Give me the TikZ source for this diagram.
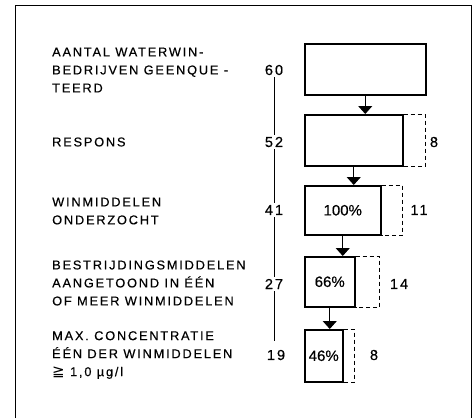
\documentclass[tikz,border=0pt]{standalone}
\usepackage{fontspec}
\setmainfont{Liberation Sans}[FakeBold=0.4]
\newfontfamily\lblfont{Liberation Sans}[LetterSpace=14,FakeBold=0.4]
\newfontfamily\symfont{DejaVu Sans}
\usetikzlibrary{arrows.meta}
\begin{document}
\begin{tikzpicture}[x=1pt,y=-1pt,
  lbl/.style={anchor=west, align=left, inner sep=0pt, font=\lblfont\fontsize{12.8}{18}\selectfont},
  num/.style={inner sep=0pt, minimum height=14pt, font=\lblfont\fontsize{14.5}{16}\selectfont},
  pct/.style={inner sep=0pt, font=\fontsize{15}{16}\selectfont},
  boxx/.style={draw, line width=1.5pt, anchor=north west, inner sep=0pt},
  dashx/.style={draw, line width=0.8pt, dash pattern=on 4pt off 3pt},
  arr/.style={line width=1.1pt, -{Triangle[width=14pt,length=8pt]}},
  vline/.style={line width=0.9pt},
  frame/.style={line width=1pt}]
\useasboundingbox (0,0) rectangle (476,418);
% frame
\coordinate (fbl) at (15,418);
\coordinate (ftl) at (15,5);
\coordinate (ftr) at (471,5);
\coordinate (fbr) at (471,418);
\draw[frame] (fbl) -- (ftl) -- (ftr) -- (fbr);
% labels
\node[lbl] (l1) at (52,70) {AANTAL WATERWIN-\\BEDRIJVEN GEENQUE -\\TEERD};
\node[lbl] (l2) at (52,142) {RESPONS};
\node[lbl] (l3) at (52,211) {WINMIDDELEN\\ONDERZOCHT};
\node[lbl] (l4) at (52,283) {BESTRIJDINGSMIDDELEN\\AANGETOOND IN ÉÉN\\OF MEER WINMIDDELEN};
\node[lbl] (l5) at (52,355) {MAX. CONCENTRATIE\\ÉÉN DER WINMIDDELEN\\{\symfont\fontsize{15}{18}\selectfont ≧} 1,0 µg/l};
% numbers column
\node[num] (n1) at (274,70) {60};
\node[num] (n2) at (274,142) {52};
\node[num] (n3) at (274,210) {41};
\node[num] (n4) at (274,284) {27};
\node[num] (n5) at (276,355) {19};
\draw[vline] (n1.south) -- (n1.south |- n2.north);
\draw[vline] (n2.south) -- (n2.south |- n3.north);
\draw[vline] (n3.south) -- (n3.south |- n4.north);
\draw[vline] (n4.south) -- (n4.south |- 0,341);
% boxes
\node[boxx, minimum width=121pt, minimum height=51pt] (b1) at (304,43) {};
\node[boxx, minimum width=98pt, minimum height=51pt] (b2) at (304,114) {};
\node[boxx, minimum width=76pt, minimum height=49pt] (b3) at (304,185) {};
\node[boxx, minimum width=50pt, minimum height=50pt] (b4) at (304,256) {};
\node[boxx, minimum width=38pt, minimum height=52pt] (b5) at (304,329) {};
% percentages
\node[pct] (p3) at (b3.center) {100\%};
\node[pct] (p4) at (b4.center) {66\%};
\node[pct] (p5) at (b5.center) {46\%};
% dashed extensions
\coordinate (d2) at (425,0);
\coordinate (d3) at (402,0);
\coordinate (d4) at (379,0);
\coordinate (d5) at (354,0);
\draw[dashx] (b2.north east) -- (b2.north east -| d2) -- (b2.south east -| d2) -- (b2.south east);
\draw[dashx] (b3.north east) -- (b3.north east -| d3) -- (b3.south east -| d3) -- (b3.south east);
\draw[dashx] (b4.north east) -- (b4.north east -| d4) -- (b4.south east -| d4) -- (b4.south east);
\draw[dashx] (b5.north east) -- (b5.north east -| d5) -- (b5.south east -| d5) -- (b5.south east);
% difference labels
\node[num] (e2) at (434,142) {8};
\node[num] (e3) at (419,210) {11};
\node[num] (e4) at (399,284) {14};
\node[num] (e5) at (374,355) {8};
% arrows
\draw[arr] (b1.south) -- (b1.south |- b2.north);
\draw[arr] (b2.south) -- (b2.south |- b3.north);
\draw[arr] (b3.south) -- (b3.south |- b4.north);
\draw[arr] (b4.south) -- (b4.south |- b5.north);
\end{tikzpicture}
\end{document}
